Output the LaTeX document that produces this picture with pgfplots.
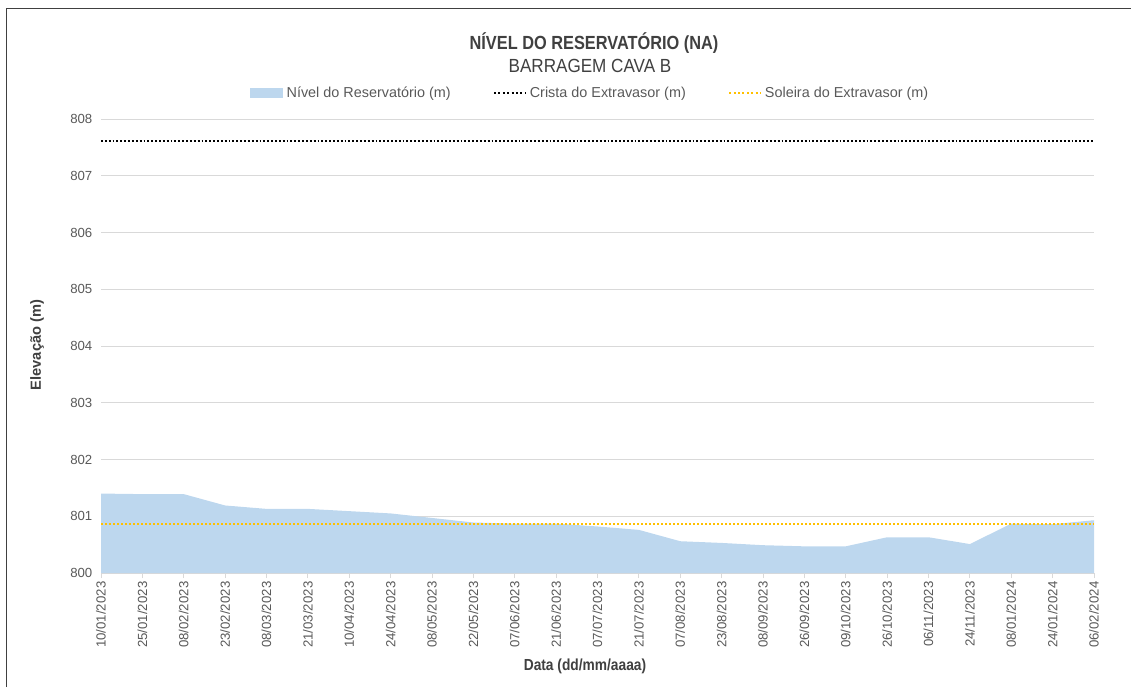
\documentclass[border=0pt]{standalone}
\usepackage{fontspec}
\setmainfont{Liberation Sans}
\newfontfamily\narrowfont[FakeStretch=0.86]{Liberation Sans}
\newfontfamily\subfont[FakeStretch=0.9]{Liberation Sans}
\usepackage{pgfplots}
\pgfplotsset{compat=1.18}
\definecolor{areablue}{HTML}{BDD7EE}
\definecolor{txtgray}{HTML}{595959}
\definecolor{titlegray}{HTML}{404040}
\definecolor{gridgray}{HTML}{D9D9D9}
\definecolor{soleira}{HTML}{FFC000}
\begin{document}
\begin{tikzpicture}
\path[use as bounding box] (-75.75pt,-85.5pt) rectangle (772.5pt,429.75pt);
\draw[titlegray, line width=0.75pt] (-70.5pt,-85.5pt) -- (-70.5pt,423pt) -- (772.5pt,423pt);
\begin{axis}[
  at={(0pt,0pt)}, anchor=south west,
  scale only axis, width=744.75pt, height=340.5pt,
  xmin=0, xmax=24, ymin=800, ymax=808,
  axis x line*=bottom, axis y line*=left,
  x axis line style={draw=gridgray, line width=0.75pt, -},
  y axis line style={draw=none, -},
  xtick={0,...,24},
  xticklabels={10/01/2023,25/01/2023,08/02/2023,23/02/2023,08/03/2023,21/03/2023,10/04/2023,24/04/2023,08/05/2023,22/05/2023,07/06/2023,21/06/2023,07/07/2023,21/07/2023,07/08/2023,23/08/2023,08/09/2023,26/09/2023,09/10/2023,26/10/2023,06/11/2023,24/11/2023,08/01/2024,24/01/2024,06/02/2024},
  xtick align=outside,
  xtick style={draw=gridgray, line width=0.75pt, /pgfplots/major tick length=3.75pt},
  xticklabel style={rotate=90, anchor=east, font=\fontsize{9.9}{11}\selectfont, text=txtgray, inner sep=2pt},
  ytick={800,...,808},
  ytick style={draw=none},
  yticklabel style={font=\fontsize{9.9}{11}\selectfont, text=txtgray, xshift=-3pt},
  /pgf/number format/assume math mode=true,
  ymajorgrids,
  major grid style={draw=gridgray, line width=0.75pt},
  legend style={at={(0.4934,1.0573)}, anchor=center, draw=none, fill=none,
    font=\fontsize{10.8}{13}\selectfont, text=txtgray, legend columns=3,
    /tikz/every even column/.append style={column sep=29pt},
    nodes={inner sep=2.8pt}},
  legend cell align=left,
]
\addplot[fill=areablue, draw=none,
  legend image code/.code={\fill[areablue] (0pt,-3.4pt) rectangle (24.75pt,3.4pt);}]
  coordinates {
  (0,801.40) (1,801.39) (2,801.39) (3,801.19) (4,801.13) (5,801.13)
  (6,801.09) (7,801.05) (8,800.97) (9,800.89) (10,800.87) (11,800.87)
  (12,800.82) (13,800.76) (14,800.56) (15,800.53) (16,800.49) (17,800.47)
  (18,800.47) (19,800.63) (20,800.63) (21,800.51) (22,800.87) (23,800.86)
  (24,800.93)} \closedcycle;
\addlegendentry{Nível do Reservatório (m)}
\addplot[black, line width=1.5pt, dash pattern=on 1.4pt off 1.5pt,
  legend image code/.code={\draw[black, line width=1.5pt, dash pattern=on 1.5pt off 1.8pt] (0pt,0pt) -- (23.25pt,0pt);}]
  coordinates {(0,807.62) (24,807.62)};
\addlegendentry{Crista do Extravasor (m)}
\addplot[soleira, line width=1.5pt, dash pattern=on 1.4pt off 1.6pt,
  legend image code/.code={\draw[soleira, line width=1.5pt, dash pattern=on 1.5pt off 1.8pt] (0pt,0pt) -- (23.25pt,0pt);}]
  coordinates {(0,800.86) (24,800.86)};
\addlegendentry{Soleira do Extravasor (m)}
\end{axis}
\node[text=titlegray, font=\narrowfont\bfseries\fontsize{14.25}{16}\selectfont] at (369.75pt,397.5pt) {NÍVEL DO RESERVATÓRIO (NA)};
\node[text=titlegray, font=\subfont\fontsize{14.25}{16}\selectfont] at (366.75pt,380.25pt) {BARRAGEM CAVA B};
\node[text=titlegray, font=\narrowfont\bfseries\fontsize{12}{14}\selectfont] at (363pt,-69.75pt) {Data (dd/mm/aaaa)};
\node[text=titlegray, rotate=90, font=\bfseries\fontsize{11}{13}\selectfont] at (-48pt,171pt) {Elevação (m)};
\end{tikzpicture}
\end{document}
